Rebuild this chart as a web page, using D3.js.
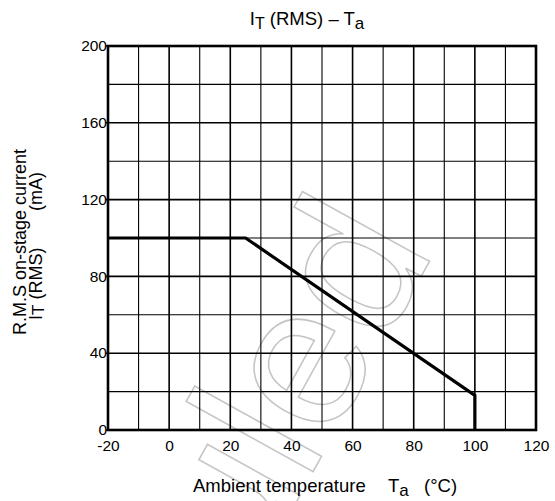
<!DOCTYPE html>
<html><head><meta charset="utf-8">
<script src="https://cdn.jsdelivr.net/npm/d3@7"></script>
<style>body{margin:0;background:#fff}svg{display:block;font-family:"Liberation Sans",Arial,sans-serif}</style>
</head><body>
<svg id="c" width="555" height="501"></svg>
<script>
// ---- data ----
const xTickValues = [-20, 0, 20, 40, 60, 80, 100, 120];
const xMinorGrid = [-10, 10, 30, 50, 70, 90, 110];
const yTickValues = [0, 40, 80, 120, 160, 200];
const yMinorGrid = [20, 60, 100, 140, 180];
const ambientTemp = [-20, 25, 100, 100];   // °C
const rmsCurrent = [100, 100, 18, 0];      // mA

const svg = d3.select("#c");
const x = d3.scaleLinear().domain([-20, 120]).range([108, 536]);
const y = d3.scaleLinear().domain([0, 200]).range([430, 46]);

// watermark
svg.append("text")
  .attr("transform", "translate(436,250) rotate(-61)")
  .attr("text-anchor", "end")
  .style("font-size", "200px")
  .attr("fill", "none").attr("stroke", "#c4c4c4").attr("stroke-width", 1.5)
  .text("Scheduled");

// grid
const g = svg.append("g");
g.selectAll(".vm").data(xMinorGrid).join("line")
  .attr("x1", d => x(d)).attr("x2", d => x(d)).attr("y1", y(0)).attr("y2", y(200))
  .attr("stroke", "#000").attr("stroke-width", 1.1);
g.selectAll(".hm").data(yMinorGrid).join("line")
  .attr("y1", d => y(d)).attr("y2", d => y(d)).attr("x1", x(-20)).attr("x2", x(120))
  .attr("stroke", "#000").attr("stroke-width", 1.1);
g.selectAll(".vM").data(xTickValues).join("line")
  .attr("x1", d => x(d)).attr("x2", d => x(d)).attr("y1", y(0)).attr("y2", y(200))
  .attr("stroke", "#000").attr("stroke-width", 1.6);
g.selectAll(".hM").data(yTickValues).join("line")
  .attr("y1", d => y(d)).attr("y2", d => y(d)).attr("x1", x(-20) - 2).attr("x2", x(120))
  .attr("stroke", "#000").attr("stroke-width", 1.6);
// frame
svg.append("rect").attr("x", x(-20)).attr("y", y(200))
  .attr("width", x(120) - x(-20)).attr("height", y(0) - y(200))
  .attr("fill", "none").attr("stroke", "#000").attr("stroke-width", 2.6);

// axes labels
const xa = svg.append("g").attr("transform", `translate(0,${y(0)})`)
  .call(d3.axisBottom(x).tickValues(xTickValues).tickSize(0).tickPadding(10).tickFormat(d => String(d)));
xa.select(".domain").remove();
xa.selectAll("text").style("font-size", "15.5px").style("font-family", "Liberation Sans, Arial, sans-serif").attr("fill", "#000");
const ya = svg.append("g").attr("transform", `translate(${x(-20)},0)`)
  .call(d3.axisLeft(y).tickValues(yTickValues).tickSize(0).tickPadding(1).tickFormat(d => String(d)));
ya.select(".domain").remove();
ya.selectAll("text").style("font-size", "15.5px").style("font-family", "Liberation Sans, Arial, sans-serif").attr("fill", "#000").attr("dy", "0.3em");

// data line
const pts = ambientTemp.map((t, i) => [t, rmsCurrent[i]]);
svg.append("path").datum(pts)
  .attr("d", d3.line().x(d => x(d[0])).y(d => y(d[1])))
  .attr("fill", "none").attr("stroke", "#000").attr("stroke-width", 3.2).attr("stroke-linejoin", "miter");

// title
const t = svg.append("text").attr("x", 307).attr("y", 25).attr("text-anchor", "middle").style("font-size", "18.5px");
t.append("tspan").text("I");
t.append("tspan").attr("dy", 4).style("font-size", "16px").text("T");
t.append("tspan").attr("dy", -4).text(" (RMS) – T");
t.append("tspan").attr("dy", 4).style("font-size", "17px").text("a");

// x axis title
const xt = svg.append("text").attr("x", 193).attr("y", 492).style("font-size", "18.5px");
xt.append("tspan").text("Ambient temperature");
xt.append("tspan").attr("x", 388).text("T");
xt.append("tspan").attr("dy", 4).style("font-size", "17px").text("a");
xt.append("tspan").attr("dy", -4).attr("x", 424).text("(°C)");

// y axis title
const yt = svg.append("g").attr("transform", "rotate(-90)").style("font-size", "18px");
yt.append("text").attr("x", -242).attr("y", 26).attr("text-anchor", "middle").text("R.M.S on-stage current");
const yt2 = yt.append("text").attr("x", -320).attr("y", 42).attr("text-anchor", "start");
yt2.append("tspan").text("I");
yt2.append("tspan").attr("dy", 1.5).style("font-size", "17px").text("T");
yt2.append("tspan").attr("dy", -1.5).text(" (RMS)");
yt.append("text").attr("x", -172).attr("y", 42).attr("text-anchor", "end").text("(mA)");
</script>
</body></html>
